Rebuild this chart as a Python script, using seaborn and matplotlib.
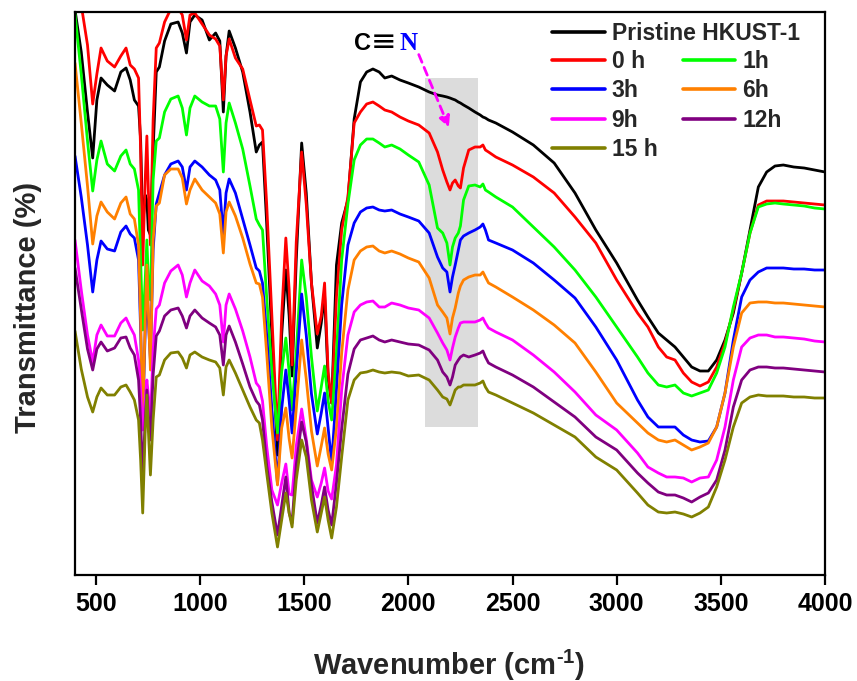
import matplotlib
matplotlib.use("Agg")
import matplotlib.pyplot as plt
import seaborn as sns
import pandas as pd
from matplotlib import font_manager
from matplotlib.lines import Line2D
from matplotlib.patches import Rectangle

# ---------------- data (arbitrary transmittance units) -------------
wavenumber = [400, 430, 460, 485, 505, 525, 555, 590, 620, 645, 665, 685, 705,
              715, 725, 737, 745, 752, 762, 775,
              790, 805, 830, 860, 895, 915, 935,
              952, 975, 1010, 1045, 1075, 1095, 1112, 1125, 1140,
              1170, 1205, 1240, 1270, 1285, 1300,
              1320, 1345, 1372, 1392, 1412, 1428, 1442, 1462, 1488,
              1510, 1535, 1563, 1582, 1598, 1615, 1632, 1655,
              1680, 1710, 1740, 1770, 1800, 1830, 1860, 1887, 1920, 1960, 2000,
              2050, 2100, 2140, 2165, 2185, 2200, 2212, 2225, 2240, 2250, 2265, 2290, 2320, 2345, 2358, 2370, 2385, 2420,
              2500, 2600, 2700, 2800, 2900, 3000,
              3100, 3150, 3200, 3240, 3280, 3320, 3360, 3400, 3440, 3480, 3520, 3560,
              3600, 3640, 3680, 3720, 3760, 3800, 3850, 3900, 3950, 4000]

pristine = [565, 523, 463, 417, 475, 497, 490, 484, 503, 507, 495, 475, 469,
            435, 350, 380, 375, 345, 340, 425,
            503, 508, 534, 551, 553, 542, 522,
            553, 560, 555, 535, 542, 534, 463, 519, 544,
            527, 503, 463, 423, 430, 433,
            352, 240, 120, 240, 305, 259, 199, 315, 432,
            382, 292, 227, 252, 280, 196, 172, 310,
            352, 375, 456, 493, 503, 506, 503, 497, 499, 495, 492,
            488, 483, 480, 479, 478, 477, 476, 475, 473, 472, 470, 467, 463, 460, 458, 457, 455, 452,
            443, 430, 412, 382, 345, 312,
            275, 258, 242, 235, 228, 218, 208, 204, 204, 215, 235, 262,
            302, 345, 388, 403, 409, 410, 408, 407, 405, 403]

h0 = [575, 570, 530, 471, 501, 527, 514, 508, 519, 527, 510, 506, 497,
      425, 310, 395, 439, 385, 330, 455,
      527, 532, 553, 566, 567, 560, 535,
      560, 562, 551, 540, 536, 529, 475, 519, 536,
      517, 506, 475, 449, 450, 445,
      371, 259, 135, 259, 337, 285, 210, 333, 423,
      371, 292, 241, 259, 292, 203, 172, 278,
      345, 378, 452, 463, 471, 473, 469, 465, 463, 458, 454,
      450, 442, 423, 405, 393, 385, 392, 395, 389, 387, 407, 425, 428, 428, 430, 425, 423, 418,
      410, 398, 382, 358, 332, 295,
      262, 248, 228, 218, 215, 202, 193, 189, 193, 208, 232, 265,
      302, 342, 370, 374, 374, 374, 373, 372, 371, 370]

h1 = [561, 501, 434, 384, 415, 434, 411, 404, 419, 425, 411, 406, 385,
      315, 245, 295, 335, 295, 275, 395,
      434, 437, 463, 476, 479, 467, 440,
      467, 479, 473, 469, 469, 456, 403, 452, 472,
      452, 426, 389, 356, 350, 345,
      278, 203, 142, 203, 237, 203, 165, 222, 315,
      278, 218, 164, 188, 209, 174, 155, 222,
      315, 371, 415, 430, 436, 436, 432, 428, 430, 426, 420,
      413, 390, 347, 342, 332, 310, 328, 337, 342, 349, 375, 389, 390, 388, 391, 385, 383, 378,
      368, 348, 328, 305, 278, 248,
      218, 202, 190, 188, 190, 182, 179, 182, 185, 202, 228, 268,
      302, 342, 368, 371, 372, 371, 370, 369, 367, 366]

h3 = [419, 378, 330, 283, 315, 334, 326, 324, 343, 349, 341, 337, 315,
      245, 155, 245, 295, 255, 215, 325,
      371, 382, 400, 411, 414, 408, 385,
      408, 414, 408, 400, 395, 385, 340, 382, 396,
      382, 356, 330, 307, 304, 292,
      240, 166, 91, 166, 205, 174, 142, 203, 281,
      240, 181, 141, 162, 182, 147, 112, 185,
      270, 330, 352, 363, 367, 368, 365, 364, 365, 361, 358,
      354, 342, 318, 307, 303, 283, 298, 310, 325, 335, 339, 342, 345, 348, 351, 345, 335, 332,
      325, 312, 295, 277, 248, 215,
      175, 158, 148, 148, 148, 140, 135, 133, 134, 148, 182, 235,
      278, 295, 303, 307, 307, 307, 306, 306, 305, 305]

h6 = [512, 452, 389, 331, 359, 373, 363, 356, 372, 378, 361, 356, 330,
      255, 150, 255, 310, 265, 205, 335,
      369, 372, 400, 406, 406, 397, 371,
      385, 396, 385, 378, 372, 361, 322, 363, 373,
      359, 337, 311, 292, 291, 278,
      222, 147, 90, 147, 167, 136, 117, 166, 235,
      196, 144, 109, 129, 147, 121, 105, 147,
      222, 285, 315, 324, 328, 329, 324, 322, 324, 321, 317,
      313, 297, 270, 263, 257, 241, 257, 267, 282, 289, 295, 298, 300, 300, 303, 298, 292, 288,
      278, 265, 250, 232, 203, 172,
      152, 142, 135, 133, 135, 130, 125, 128, 132, 148, 182, 228,
      262, 272, 273, 273, 272, 272, 271, 270, 269, 268]

h9 = [335, 285, 240, 213, 240, 250, 239, 239, 252, 257, 248, 240, 215,
      185, 145, 175, 195, 180, 155, 225,
      266, 270, 292, 304, 310, 300, 278,
      292, 305, 294, 289, 281, 270, 233, 270, 281,
      266, 244, 218, 192, 188, 174,
      129, 85, 70, 92, 111, 81, 80, 129, 166,
      136, 95, 78, 92, 107, 84, 76, 110,
      185, 240, 263, 270, 273, 274, 268, 268, 272, 270, 267,
      265, 257, 242, 232, 225, 215, 227, 238, 247, 252, 253, 253, 253, 255, 257, 252, 247, 243,
      235, 220, 203, 183, 160, 145,
      122, 108, 102, 98, 98, 97, 93, 97, 98, 115, 148, 195,
      228, 237, 240, 240, 238, 238, 237, 236, 234, 233]

h12 = [307, 266, 226, 205, 226, 233, 224, 227, 237, 238, 227, 220, 195,
       155, 97, 155, 185, 160, 135, 200,
       239, 244, 259, 265, 267, 259, 247,
       259, 265, 257, 252, 248, 240, 210, 240, 249,
       233, 211, 188, 174, 170, 155,
       110, 73, 40, 69, 98, 62, 52, 110, 153,
       133, 90, 52, 70, 88, 65, 50, 92,
       146, 201, 226, 235, 237, 239, 235, 233, 235, 233, 231,
       230, 225, 215, 203, 198, 190, 198, 210, 215, 218, 220, 218, 220, 222, 224, 218, 212, 208,
       200, 188, 173, 158, 138, 125,
       102, 92, 83, 80, 80, 77, 73, 78, 82, 95, 125, 168,
       195, 205, 208, 208, 207, 207, 206, 205, 204, 203]

h15 = [244, 206, 178, 163, 178, 187, 180, 180, 188, 190, 183, 175, 155,
       115, 62, 145, 180, 145, 100, 155,
       198, 200, 215, 222, 223, 217, 207,
       220, 223, 218, 215, 213, 207, 180, 208, 215,
       202, 185, 168, 155, 152, 135,
       102, 62, 28, 55, 82, 62, 48, 95, 135,
       118, 75, 43, 62, 78, 55, 37, 68,
       118, 175, 195, 202, 203, 205, 203, 202, 203, 202, 199,
       200, 195, 185, 178, 176, 170, 177, 185, 188, 188, 190, 190, 190, 192, 194, 188, 183, 180,
       172, 162, 150, 138, 118, 105,
       82, 70, 63, 62, 63, 61, 58, 62, 68, 88, 115, 148,
       172, 178, 180, 179, 179, 179, 178, 178, 177, 177]

series_labels = ["Pristine HKUST-1", "0 h", "1h", "3h", "6h", "9h", "12h", "15 h"]
series_values = [pristine, h0, h1, h3, h6, h9, h12, h15]
series_colors = ["#000000", "#ff0000", "#00ff00", "#0000ff", "#ff8000", "#ff00ff", "#800080", "#808000"]
x_ticks = [500, 1000, 1500, 2000, 2500, 3000, 3500, 4000]
cn_band_x = [2080, 2333]      # shaded C≡N band (wavenumber)
cn_band_y = [148, 497]        # vertical extent of the band (a.u.)

for v in series_values:
    assert len(v) == len(wavenumber), len(v)

# ---------------- style ----------------
sns.set_theme(style="white")
names = {f.name for f in font_manager.fontManager.ttflist}
narrow = "Liberation Sans Narrow" if "Liberation Sans Narrow" in names else "Liberation Sans"
plt.rcParams["font.family"] = ["Liberation Sans", "DejaVu Sans"]
plt.rcParams["mathtext.fontset"] = "custom"
plt.rcParams["mathtext.rm"] = narrow + ":bold"
plt.rcParams["mathtext.bf"] = narrow + ":bold"
plt.rcParams["mathtext.default"] = "bf"

if narrow == "Liberation Sans Narrow":
    tick_size, label_size = 21, 25
else:
    tick_size, label_size = 18, 21

rows = []
for lab, vals in zip(series_labels, series_values):
    for w, t in zip(wavenumber, vals):
        rows.append((w, t, lab))
df = pd.DataFrame(rows, columns=["wavenumber", "T", "sample"])

fig = plt.figure(figsize=(8.57, 6.81), dpi=100)
ax = fig.add_axes([75 / 857, 106 / 681, 750 / 857, 563 / 681])

ax.add_patch(Rectangle((cn_band_x[0], cn_band_y[0]), cn_band_x[1] - cn_band_x[0],
                       cn_band_y[1] - cn_band_y[0], facecolor="#dcdcdc", edgecolor="none", zorder=0))

sns.lineplot(data=df, x="wavenumber", y="T", hue="sample", hue_order=series_labels,
             palette=series_colors, estimator=None, sort=False, linewidth=2.0,
             legend=False, ax=ax)

ax.set_xlim(400, 4000)
ax.set_ylim(0, 563)
ax.set_yticks([])
ax.set_xticks(x_ticks)
ax.set_xticklabels([str(t) for t in x_ticks])
ax.tick_params(axis="x", bottom=True, direction="out", length=7, width=1.6, pad=5,
               colors="black")
for lbl in ax.get_xticklabels():
    lbl.set_fontfamily(narrow)
    lbl.set_fontweight("bold")
    lbl.set_fontsize(tick_size)
for s in ax.spines.values():
    s.set_linewidth(1.6)
    s.set_color("black")

ax.set_xlabel(r"Wavenumber (cm$^{\text{-1}}$)", fontfamily=narrow, fontweight="bold",
              fontsize=label_size)
ax.set_ylabel("Transmittance (%)", fontfamily=narrow, fontweight="bold", fontsize=label_size)
ax.xaxis.label.set_verticalalignment("center")
ax.yaxis.label.set_verticalalignment("center")
ax.xaxis.set_label_coords(0.499, -0.16)
ax.yaxis.set_label_coords(-0.063, 0.476)

# legends
handles = [Line2D([], [], color=c, lw=2.6) for c in series_colors]
prop = dict(family="Liberation Sans", weight="bold", size=16.5)
leg1 = ax.legend([handles[0]], [series_labels[0]], loc="upper left",
                 bbox_to_anchor=(552 / 857, 1 - 22 / 681), bbox_transform=fig.transFigure,
                 frameon=False, prop=prop, handlelength=2.3, handletextpad=0.3,
                 borderpad=0, borderaxespad=0)
ax.add_artist(leg1)
order = [1, 3, 5, 7, 2, 4, 6]
ax.legend([handles[i] for i in order], [series_labels[i] for i in order], ncol=2,
          loc="upper left", bbox_to_anchor=(552 / 857, 1 - 50 / 681),
          bbox_transform=fig.transFigure, frameon=False, prop=prop,
          handlelength=2.3, handletextpad=0.3, borderpad=0, borderaxespad=0,
          labelspacing=0.28, columnspacing=1.1)

# C≡N annotation
ax.text(1740, 532, "C", fontfamily="Liberation Sans", fontweight="bold", fontsize=17,
        ha="left", va="center", color="black")
ax.text(1882, 533, "\u2261", fontfamily="DejaVu Sans", fontweight="normal", fontsize=22,
        ha="center", va="center", color="black")
ax.text(1956, 532, "N", fontfamily="Liberation Serif", fontweight="bold", fontsize=18,
        ha="left", va="center", color="#0000ff")
ax.annotate("", xy=(2200, 445), xytext=(2045, 523),
            arrowprops=dict(arrowstyle="-|>", color="#ff00ff", lw=2.0,
                            linestyle=(0, (3, 2)), mutation_scale=16))

fig.savefig("out.png", dpi=100)
